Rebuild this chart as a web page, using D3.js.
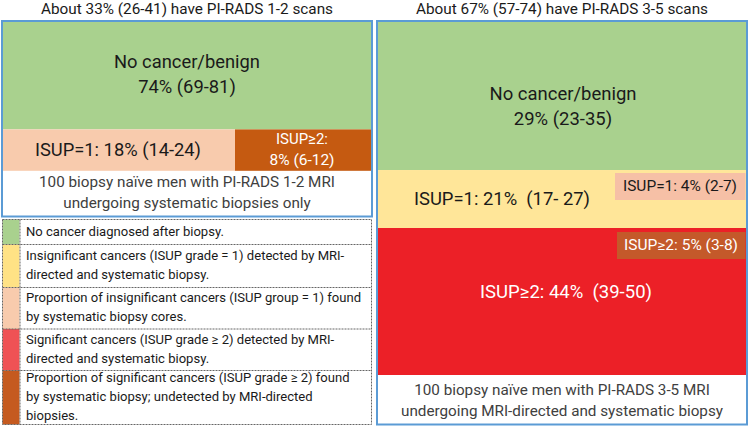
<!DOCTYPE html>
<html><head><meta charset="utf-8">
<script src="https://cdn.jsdelivr.net/npm/d3@7"></script>
<style>body{margin:0;background:#fff}svg{display:block}text{font-family:Roboto,"Open Sans",sans-serif;white-space:pre}</style>
</head><body><svg id="c" width="750" height="427"></svg>
<script>
// ---- data ----
const panelTitles = ["About 33% (26-41) have PI-RADS 1-2 scans", "About 67% (57-74) have PI-RADS 3-5 scans"];
const leftCategories = ["No cancer/benign", "ISUP=1", "ISUP≥2"];
const leftValues = [74, 18, 8];
const leftLow = [69, 14, 6];
const leftHigh = [81, 24, 12];
const rightCategories = ["No cancer/benign", "ISUP=1", "ISUP=1 systematic only", "ISUP≥2", "ISUP≥2 systematic only"];
const rightValues = [29, 21, 4, 44, 5];
const rightLow = [23, 17, 2, 39, 3];
const rightHigh = [35, 27, 7, 50, 8];
const panelFootnotes = [
  ["100 biopsy naïve men with PI-RADS 1-2 MRI", "undergoing systematic biopsies only"],
  ["100 biopsy naïve men with PI-RADS 3-5 MRI", "undergoing MRI-directed and systematic biopsy"]
];
const legendLabels = [
  ["No cancer diagnosed after biopsy."],
  ["Insignificant cancers (ISUP grade = 1) detected by MRI-", "directed and systematic biopsy."],
  ["Proportion of insignificant cancers (ISUP group = 1) found", "by systematic biopsy cores."],
  ["Significant cancers (ISUP grade \u2265 2) detected by MRI-", "directed and systematic biopsy."],
  ["Proportion of significant cancers (ISUP grade \u2265 2) found", "by systematic biopsy; undetected by MRI-directed", "biopsies."]
];

// ---- style ----
const C = {green:"#a9d18e", salmon:"#f8cbad", orange:"#c55a11", yellow:"#ffe699", red:"#ec2027",
  brownBox:"#c4592a", salmonBox:"#f6c0a6", border:"#5b9bd5", text:"#1a1a1a", gray:"#404040",
  legYellow:"#ffe285", legRed:"#ef5255", legBrown:"#c55a1f"};
const svg = d3.select("#c");

// font size set from glyph height; widest line then stretched/compressed to the reference width
function fitLines(t, target){
  const nodes = t.selectAll("tspan").nodes();
  const ws = nodes.map(n=>n.getComputedTextLength());
  const k = target/d3.max(ws);
  nodes.forEach((n,i)=>{ n.setAttribute("textLength", ws[i]*k); n.setAttribute("lengthAdjust","spacingAndGlyphs"); });
}
function txt(g, lines, x, y, lh, opts){
  const t = g.append("text").attr("text-anchor","middle").attr("fill",opts.color||C.text)
    .style("font-size",(opts.size||16)+"px");
  lines.forEach((l,i)=>t.append("tspan").attr("x",x).attr("y",y+i*lh).attr("dominant-baseline","middle").text(l));
  if(opts.fit) fitLines(t, opts.fit);
  return t;
}
const fmt = (v,lo,hi)=>`${v}% (${lo}-${hi})`;

// ---- titles ----
const titleX = d3.scalePoint().domain([0,1]).range([187,562]);
panelTitles.forEach((t,i)=>txt(svg,[t],titleX(i),10,0,{size:14,fit:292,color:C.text}));

// ---- left panel ----
const L = {x0:3, x1:371, y0:22, y1:215.5};
const yL = d3.scaleLinear().domain([0,1]).range([L.y0,L.y1]);
const rowsL = [0, 0.555, 0.769, 1]; // green | cancer row | footnote
svg.append("rect").attr("x",L.x0).attr("y",yL(rowsL[0])).attr("width",L.x1-L.x0).attr("height",yL(rowsL[1])-yL(rowsL[0])).attr("fill",C.green);
svg.append("rect").attr("x",L.x0).attr("y",yL(rowsL[1])).attr("width",235-L.x0).attr("height",yL(rowsL[2])-yL(rowsL[1])).attr("fill",C.salmon);
svg.append("rect").attr("x",235).attr("y",yL(rowsL[1])).attr("width",L.x1-235).attr("height",yL(rowsL[2])-yL(rowsL[1])).attr("fill",C.orange);
svg.append("rect").attr("x",2).attr("y",21).attr("width",370).attr("height",195.5).attr("fill","none").attr("stroke",C.border).attr("stroke-width",2);

txt(svg,[leftCategories[0], fmt(leftValues[0],leftLow[0],leftHigh[0])],187,63,25,{size:18.5,fit:146});
txt(svg,[`${leftCategories[1]}: ${fmt(leftValues[1],leftLow[1],leftHigh[1])}`],118,151,0,{size:18,fit:166});
txt(svg,[`${leftCategories[2]}:`],302,140,0,{size:15.5,fit:52,color:"#fff"});
txt(svg,[fmt(leftValues[2],leftLow[2],leftHigh[2])],302,161,0,{size:15.5,fit:65,color:"#fff"});
txt(svg,panelFootnotes[0],187,183,21,{size:15.5,fit:296,color:C.gray});

// ---- right panel ----
const R = {x0:378, x1:746, y0:22, y1:423.5};
const yR = d3.scaleLinear().domain([0,1]).range([R.y0,R.y1]);
const rowsR = [0, 0.3687, 0.5131, 0.8792, 1];
svg.append("rect").attr("x",R.x0).attr("y",yR(rowsR[0])).attr("width",R.x1-R.x0).attr("height",yR(rowsR[1])-yR(rowsR[0])).attr("fill",C.green);
svg.append("rect").attr("x",R.x0).attr("y",yR(rowsR[1])).attr("width",R.x1-R.x0).attr("height",yR(rowsR[2])-yR(rowsR[1])).attr("fill",C.yellow);
svg.append("rect").attr("x",R.x0).attr("y",yR(rowsR[2])).attr("width",R.x1-R.x0).attr("height",yR(rowsR[3])-yR(rowsR[2])).attr("fill",C.red);
svg.append("rect").attr("x",615).attr("y",173).attr("width",130.5).attr("height",27).attr("fill",C.salmonBox);
svg.append("rect").attr("x",617).attr("y",232).attr("width",128.5).attr("height",27).attr("fill",C.brownBox);
svg.append("rect").attr("x",377).attr("y",21).attr("width",370).attr("height",403.5).attr("fill","none").attr("stroke",C.border).attr("stroke-width",2);

txt(svg,[rightCategories[0], fmt(rightValues[0],rightLow[0],rightHigh[0])],563,95,25,{size:18.5,fit:147});
txt(svg,[`${rightCategories[1]}: ${rightValues[1]}%  (${rightLow[1]}- ${rightHigh[1]})`],502,200,0,{size:18,fit:176});
txt(svg,[`ISUP=1: ${fmt(rightValues[2],rightLow[2],rightHigh[2])}`],680,187,0,{size:14,fit:114});
txt(svg,[`ISUP≥2: ${fmt(rightValues[4],rightLow[4],rightHigh[4])}`],681,246,0,{size:14,fit:114,color:"#fff"});
txt(svg,[`${rightCategories[3]}: ${rightValues[3]}%  (${rightLow[3]}-${rightHigh[3]})`],566,293,0,{size:18,fit:172,color:"#fff"});
txt(svg,panelFootnotes[1],562,391,21,{size:15.5,fit:322,color:C.gray});

// ---- legend ----
const legColors = [C.green, C.legYellow, C.salmon, C.legRed, C.legBrown];
const legY = [219.5, 244.5, 287.5, 329, 370.5, 424.5];
const lg = svg.append("g");
legendLabels.forEach((lines,i)=>{
  lg.append("rect").attr("x",2.5).attr("y",legY[i]).attr("width",17).attr("height",legY[i+1]-legY[i]).attr("fill",legColors[i]);
});
const legTexts = legendLabels.map((lines,i)=>{
  const n = lines.length, mid=(legY[i]+legY[i+1])/2, lh=19;
  const t = lg.append("text").attr("fill",C.text).style("font-size","13.5px");
  lines.forEach((l,j)=>t.append("tspan").attr("x",26).attr("y",mid+(j-(n-1)/2)*lh).attr("dominant-baseline","middle").text(l));
  return t;
});
// common horizontal scale: widest legend line matches reference width
const legNodes = legTexts.flatMap(t=>t.selectAll("tspan").nodes());
const legK = 335/d3.max(legNodes, n=>n.getComputedTextLength());
legNodes.forEach(n=>{ n.setAttribute("textLength", n.getComputedTextLength()*legK); n.setAttribute("lengthAdjust","spacingAndGlyphs"); });
lg.append("rect").attr("x",2.5).attr("y",219.5).attr("width",369).attr("height",205).attr("fill","none").attr("stroke","#666").attr("stroke-dasharray","2,1");
legY.slice(1,-1).forEach(y=>lg.append("line").attr("x1",2.5).attr("x2",371.5).attr("y1",y).attr("y2",y).attr("stroke","#666").attr("stroke-dasharray","2,1"));
lg.append("line").attr("x1",20).attr("x2",20).attr("y1",219.5).attr("y2",424.5).attr("stroke","#666").attr("stroke-dasharray","2,1");
</script></body></html>
